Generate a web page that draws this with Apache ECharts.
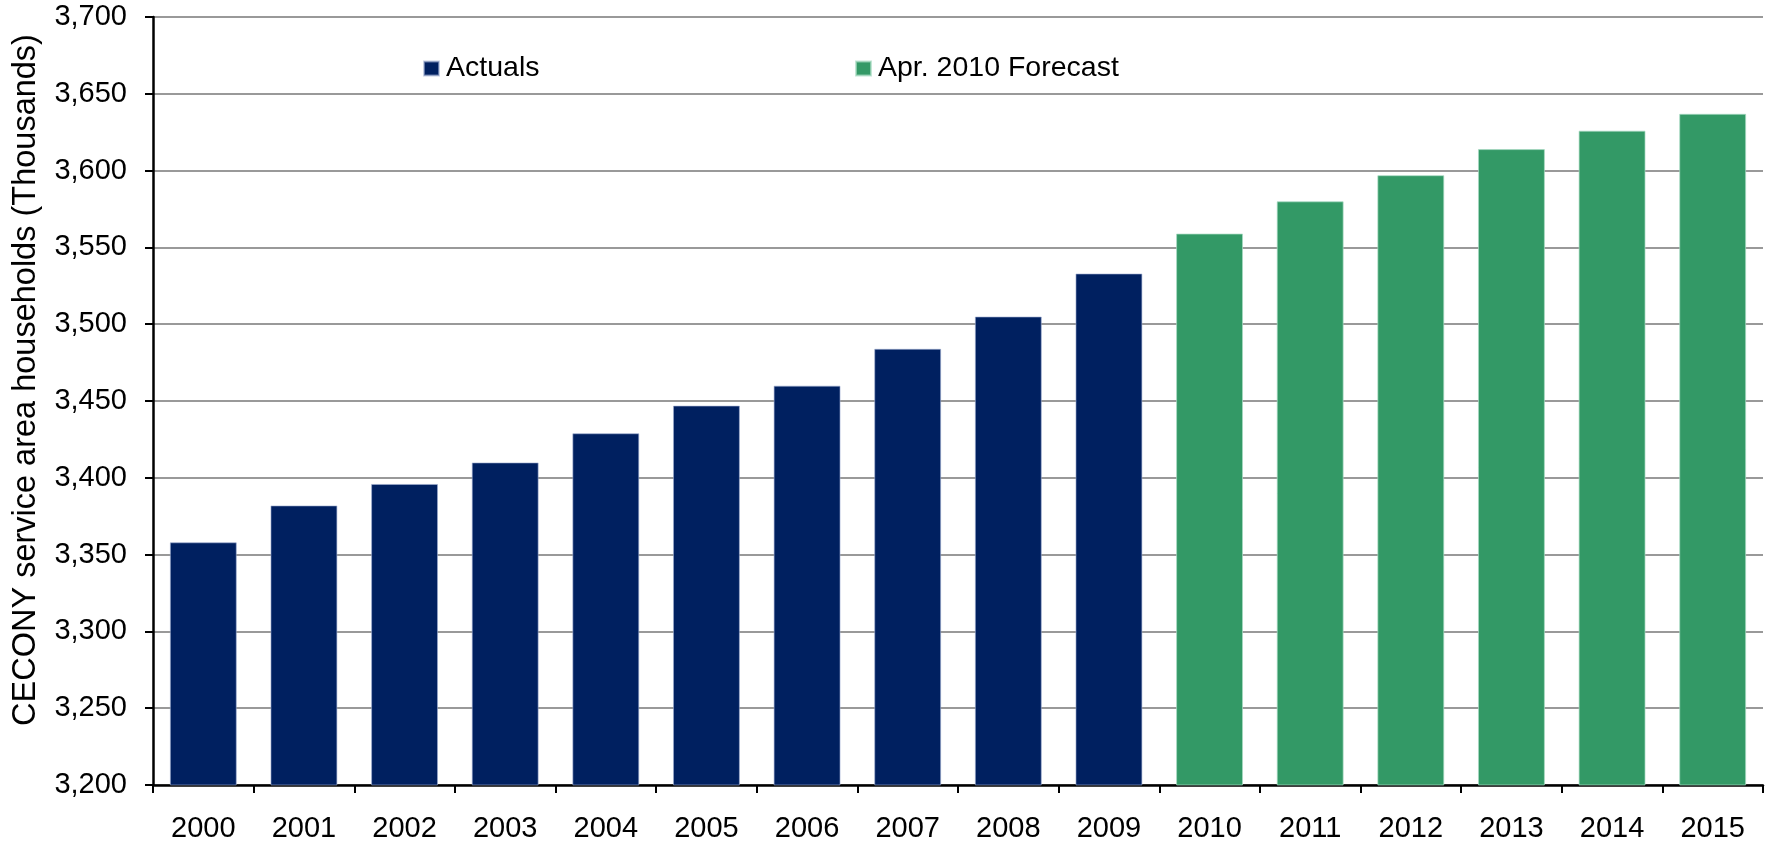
<!DOCTYPE html>
<html>
<head>
<meta charset="utf-8">
<script src="https://cdn.jsdelivr.net/npm/echarts@6/dist/echarts.min.js"></script>
<style>
html,body{margin:0;padding:0;background:#fff;}
#chart{width:1772px;height:846px;}
</style>
</head>
<body>
<div id="chart"></div>
<script>
const years = ['2000','2001','2002','2003','2004','2005','2006','2007','2008','2009','2010','2011','2012','2013','2014','2015'];
const actuals = [3358, 3382, 3396, 3410, 3429, 3447, 3460, 3484, 3505, 3533, null, null, null, null, null, null];
const forecast = [null, null, null, null, null, null, null, null, null, null, 3559, 3580, 3597, 3614, 3626, 3637];
const yMin = 3200, yMax = 3700, yStep = 50;
const seriesNames = ['Actuals', 'Apr. 2010 Forecast'];

const FONT = "'Liberation Sans', Arial, sans-serif";
const legendText = {fontFamily: FONT, fontSize: 28.5, color: '#000', lineHeight: 14, padding: [0,0,0,2]};
const chart = echarts.init(document.getElementById('chart'), null, {renderer: 'canvas'});
chart.setOption({
  animation: false,
  backgroundColor: '#ffffff',
  grid: {left: 153, top: 17, right: 9, bottom: 61, containLabel: false},
  legend: [
    {data: [seriesNames[0]], left: 423, top: 54, padding: 0, itemWidth: 15, itemHeight: 14,
     icon: 'rect', textStyle: legendText},
    {data: [seriesNames[1]], left: 855, top: 54, padding: 0, itemWidth: 15, itemHeight: 14,
     icon: 'rect', textStyle: legendText}
  ],
  xAxis: {
    type: 'category',
    data: years,
    boundaryGap: true,
    axisLine: {lineStyle: {color: '#000', width: 2.5}},
    axisTick: {show: true, alignWithLabel: false, length: 8, lineStyle: {color: '#000', width: 2}},
    axisLabel: {color: '#000', fontFamily: FONT, fontSize: 29, margin: 29, interval: 0}
  },
  yAxis: {
    type: 'value',
    min: yMin, max: yMax, interval: yStep,
    name: 'CECONY service area households (Thousands)',
    nameLocation: 'middle',
    nameGap: 110,
    nameRotate: 90,
    nameTextStyle: {color: '#000', fontFamily: FONT, fontSize: 32.5, padding: [0, 0, 0, 42]},
    axisLine: {show: true, lineStyle: {color: '#000', width: 2.5}},
    axisTick: {show: true, length: 8, lineStyle: {color: '#000', width: 2}},
    axisLabel: {color: '#000', fontFamily: FONT, fontSize: 29, margin: 26,
      formatter: v => v.toLocaleString('en-US')},
    splitLine: {show: true, lineStyle: {color: '#999999', width: 2}}
  },
  series: [
    {name: seriesNames[0], type: 'bar', data: actuals, barWidth: '66.5%', barGap: '-100%',
     itemStyle: {color: '#002060', borderColor: 'rgba(160,175,210,0.6)', borderWidth: 1}},
    {name: seriesNames[1], type: 'bar', data: forecast, barWidth: '66.5%', barGap: '-100%',
     itemStyle: {color: '#339966', borderColor: 'rgba(170,220,195,0.7)', borderWidth: 1}}
  ]
});
</script>
</body>
</html>
